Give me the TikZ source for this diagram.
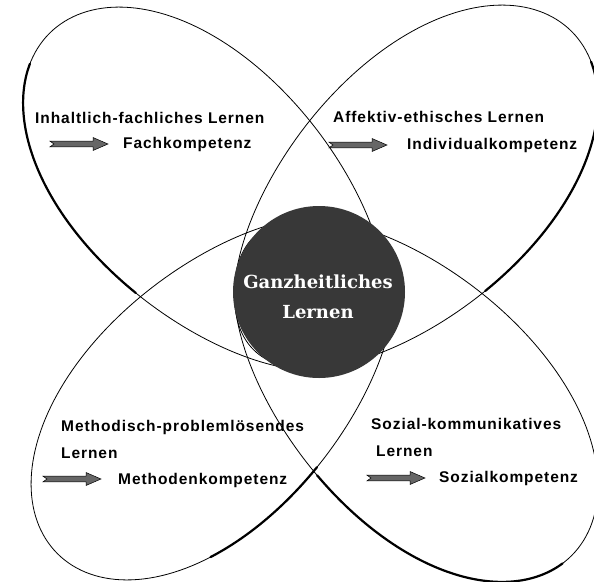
\documentclass[tikz,border=0pt]{standalone}
\usepackage{fontspec}
\setmainfont{Liberation Sans}
\newfontfamily\centerfont{DejaVu Serif}
\newcommand\petalpath{plot[domain=0:360,samples=181] ({225*cos(\x)},{124*sin(\x)*(1-0.1*cos(\x))}) -- cycle}
\newcommand\petalarc[2]{plot[domain=#1:#2,samples=60] ({225*cos(\x)},{124*sin(\x)*(1-0.1*cos(\x))})}
\begin{document}
\begin{tikzpicture}[x=1pt,y=-1pt,
  petal/.style={draw=black, line width=0.8pt},
  shadowedge/.style={draw=black, line width=2.2pt, line cap=round},
  lbl/.style={inner sep=0pt, anchor=base west, font=\bfseries\fontsize{15.5}{18}\selectfont\addfontfeature{LetterSpace=6}},
  ctr/.style={inner sep=0pt, anchor=base, text=white, font=\centerfont\bfseries\fontsize{18}{20}\selectfont},
  kpfeil/.pic={\filldraw[fill=black!60, draw=black, line width=0.5pt]
     (0,-2.8) -- (43,-2.8) -- (43,-6.5) -- (58,0) -- (43,6.5) -- (43,2.8) -- (0,2.8) -- (4,0) -- cycle;}
]
\useasboundingbox (0,0) rectangle (594,581);
\fill[white] (0,0) rectangle (594,581);

% petals (local x axis points toward the centre)
\draw[petal, shift={(208.5,192.5)}, rotate=-45] \petalpath;
\draw[petal, shift={(412.5,190.5)}, rotate=225] \petalpath;
\draw[petal, shift={(216.5,394.5)}, rotate=45] \petalpath;
\draw[petal, shift={(412.5,396.5)}, rotate=135] \petalpath;

% heavier lower edges
\draw[shadowedge, shift={(208.5,192.5)}, rotate=-45] \petalarc{85}{165};
\draw[shadowedge, shift={(412.5,190.5)}, rotate=225] \petalarc{195}{275};
\draw[shadowedge, shift={(216.5,394.5)}, rotate=45] \petalarc{85}{122};
\draw[shadowedge, shift={(412.5,396.5)}, rotate=135] \petalarc{185}{273};

% centre
\node[circle, fill=black!78, minimum size=172pt, inner sep=0pt] (kern) at (319,292) {};
\node[ctr] (g1) at (318,288) {Ganzheitliches};
\node[ctr] (g2) at (318,318) {Lernen};

% top left
\node[lbl] (t1) at (35,123) {Inhaltlich-fachliches Lernen};
\pic at (50,144) {kpfeil};
\node[lbl] (k1) at (123,148) {Fachkompetenz};

% top right
\node[lbl] (t2) at (333,122) {Affektiv-ethisches Lernen};
\pic at (329,145) {kpfeil};
\node[lbl] (k2) at (407,149) {Individualkompetenz};

% bottom left
\node[lbl] (t3) at (61,431) {Methodisch-problemlösendes};
\node[lbl] (t3b) at (61,458) {Lernen};
\pic at (43,479) {kpfeil};
\node[lbl] (k3) at (118,484) {Methodenkompetenz};

% bottom right
\node[lbl] (t4) at (371,429) {Sozial-kommunikatives};
\node[lbl] (t4b) at (376,456) {Lernen};
\pic at (367,478) {kpfeil};
\node[lbl] (k4) at (439,482) {Sozialkompetenz};
\end{tikzpicture}
\end{document}
